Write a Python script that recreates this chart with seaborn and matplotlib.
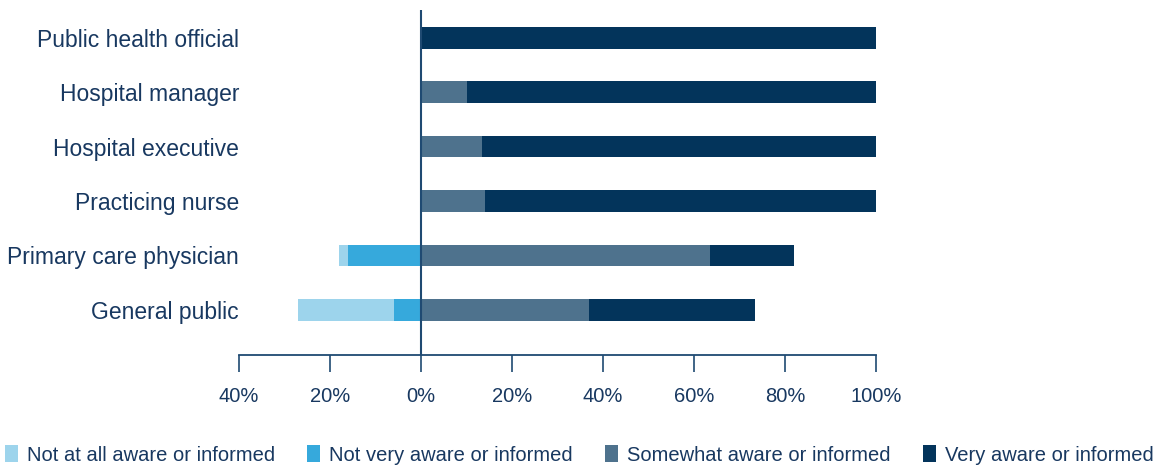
import matplotlib
matplotlib.use("Agg")
import matplotlib.pyplot as plt
from matplotlib.patches import Patch
import seaborn as sns

# Survey respondents and share (%) in each awareness level
categories = [
    "Public health official",
    "Hospital manager",
    "Hospital executive",
    "Practicing nurse",
    "Primary care physician",
    "General public",
]
not_at_all = [0, 0, 0, 0, 2, 21]
not_very = [0, 0, 0, 0, 16, 6]
somewhat = [0, 10, 13.5, 14, 63.5, 37]
very = [100, 90, 86.5, 86, 18.5, 36.3]

levels = [
    "Not at all aware or informed",
    "Not very aware or informed",
    "Somewhat aware or informed",
    "Very aware or informed",
]
colors = ["#9dd4ec", "#36a9dc", "#4e728d", "#03345b"]
text_color = "#183860"
axis_color = "#1f4a72"

xticks = [-40, -20, 0, 20, 40, 60, 80, 100]
xtick_labels = ["40%", "20%", "0%", "20%", "40%", "60%", "80%", "100%"]

sns.set_style("white")
plt.rcParams["font.family"] = ["Liberation Sans", "DejaVu Sans"]

fig = plt.figure(figsize=(11.54, 4.66), dpi=100)
ax = fig.add_axes([239 / 1154, 1 - 355 / 466, (876 - 239) / 1154, 345 / 466])

# Positive side: cumulative totals drawn widest first
pos_total = [s + v for s, v in zip(somewhat, very)]
sns.barplot(x=pos_total, y=categories, orient="h", color=colors[3],
            width=0.4, saturation=1, ax=ax, linewidth=0)
sns.barplot(x=somewhat, y=categories, orient="h", color=colors[2],
            width=0.4, saturation=1, ax=ax, linewidth=0)

# Negative side: mirrored to the left of zero
neg_total = [-(a + b) for a, b in zip(not_at_all, not_very)]
neg_inner = [-b for b in not_very]
sns.barplot(x=neg_total, y=categories, orient="h", color=colors[0],
            width=0.4, saturation=1, ax=ax, linewidth=0)
sns.barplot(x=neg_inner, y=categories, orient="h", color=colors[1],
            width=0.4, saturation=1, ax=ax, linewidth=0)

ax.set_xlim(-40, 100)
ax.set_ylim(5.83, -0.51)
ax.axvline(0, color=axis_color, lw=1.5, zorder=5)

for side in ["top", "right", "left"]:
    ax.spines[side].set_visible(False)
ax.spines["bottom"].set_color(axis_color)
ax.spines["bottom"].set_linewidth(1.3)

ax.set_xticks(xticks)
ax.set_xticklabels(xtick_labels)
ax.tick_params(axis="x", direction="out", length=12, width=1.2,
               color=axis_color, labelcolor=text_color, labelsize=14.5, pad=11,
               bottom=True)
ax.tick_params(axis="y", length=0, labelcolor=text_color, labelsize=16.5, pad=0)
ax.set_xlabel("")
ax.set_ylabel("")

handles = [Patch(facecolor=c, edgecolor="none", label=l) for c, l in zip(colors, levels)]
leg = fig.legend(handles=handles, loc="center", bbox_to_anchor=(0.502, 11 / 466),
                 ncol=4, frameon=False, fontsize=14.5, handlelength=0.65,
                 handleheight=0.85, handletextpad=0.45, columnspacing=1.6,
                 borderaxespad=0, borderpad=0)
for t in leg.get_texts():
    t.set_color(text_color)

fig.savefig("out.png", dpi=100)
